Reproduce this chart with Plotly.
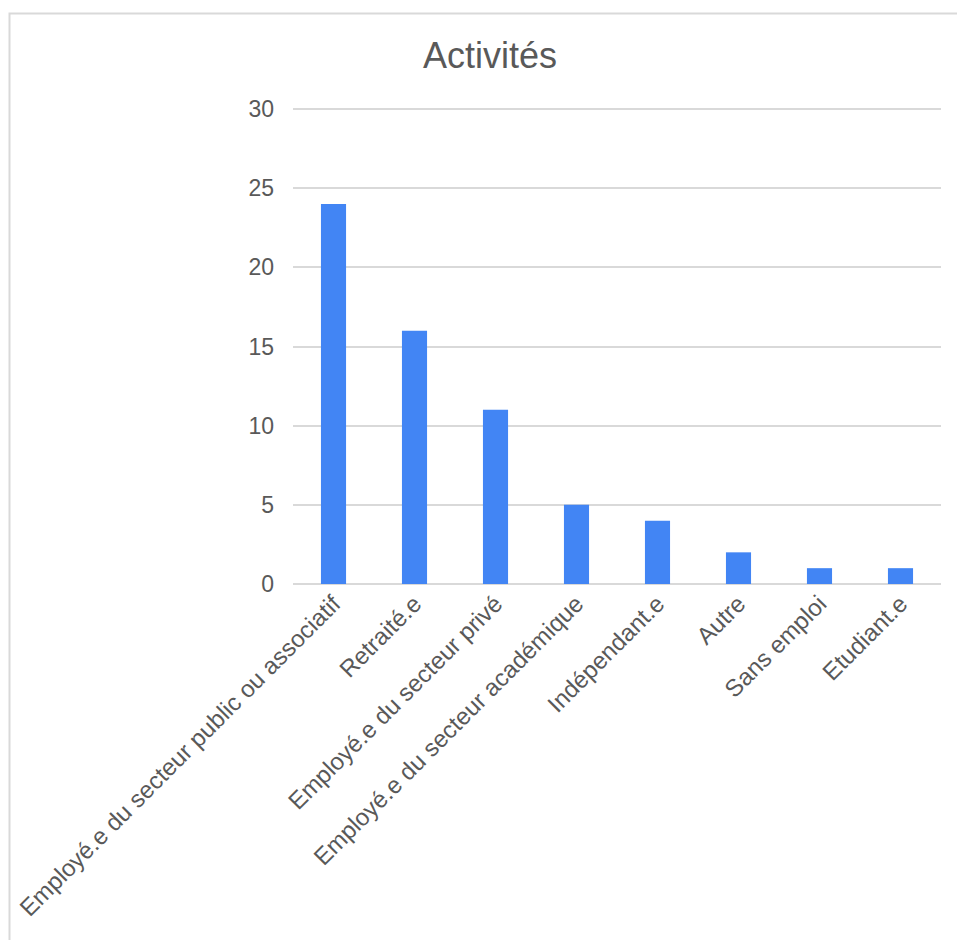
import plotly.graph_objects as go

categories = [
    "Employé.e du secteur public ou associatif",
    "Retraité.e",
    "Employé.e du secteur privé",
    "Employé.e du secteur académique",
    "Indépendant.e",
    "Autre",
    "Sans emploi",
    "Etudiant.e",
]
values = [24, 16, 11, 5, 4, 2, 1, 1]
y_ticks = [0, 5, 10, 15, 20, 25, 30]

W, H = 957, 940
L, R, T, B = 293, 16, 107, 356
pw, ph = W - L - R, H - T - B
y_top = 30 * ph / (ph - 2)  # keep 30 gridline just inside the plot

def px_x(x):
    return (x - L) / pw

def px_y(y):
    return (H - B - y) / ph

fig = go.Figure(
    go.Bar(
        x=categories,
        y=values,
        marker=dict(color="#4285F4", line=dict(width=0)),
        hoverinfo="x+y",
    )
)

font_family = "Liberation Sans, Arial, sans-serif"

fig.update_layout(
    width=W,
    height=H,
    margin=dict(l=L, r=R, t=T, b=B, autoexpand=False),
    paper_bgcolor="white",
    plot_bgcolor="white",
    bargap=0.69,
    showlegend=False,
    font=dict(family=font_family, color="#595959"),
    title=dict(
        text="Activités",
        x=490 / W,
        xref="container",
        xanchor="center",
        y=1 - 55 / H,
        yref="container",
        yanchor="middle",
        font=dict(size=36, color="#595959", family=font_family),
    ),
    xaxis=dict(
        tickangle=-45,
        tickfont=dict(size=24, color="#595959"),
        showgrid=False,
        showline=False,
        ticks="",
        automargin=False,
    ),
    yaxis=dict(
        range=[0, y_top],
        tickvals=y_ticks,
        tickfont=dict(size=23, color="#595959"),
        showgrid=True,
        gridcolor="#d9d9d9",
        gridwidth=1.5,
        zeroline=True,
        zerolinecolor="#d9d9d9",
        zerolinewidth=1.5,
        showline=False,
        ticks="",
        ticklabelstandoff=18,
        automargin=False,
    ),
    shapes=[
        dict(
            type="path",
            xref="paper",
            yref="paper",
            path=f"M {px_x(9.5)} {px_y(945)} L {px_x(9.5)} {px_y(13.5)} L {px_x(960)} {px_y(13.5)}",
            line=dict(color="#d9d9d9", width=2),
            layer="below",
        )
    ],
)

fig.write_html("out.html")
